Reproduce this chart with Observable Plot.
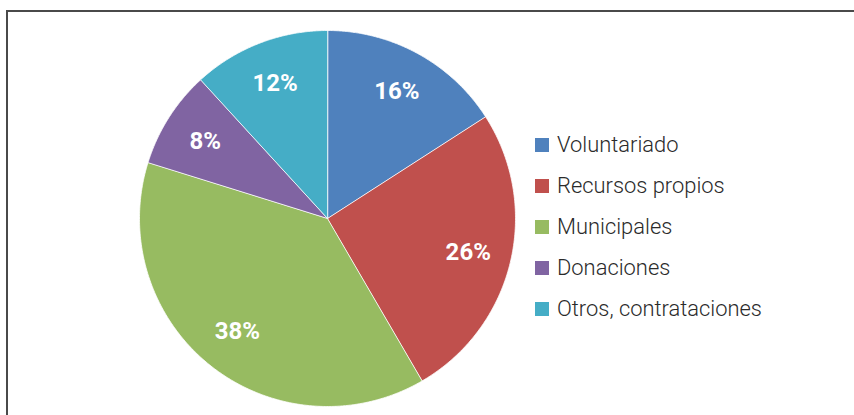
<!DOCTYPE html>
<html>
<head>
<meta charset="utf-8">
<script src="https://cdn.jsdelivr.net/npm/d3@7"></script>
<script src="https://cdn.jsdelivr.net/npm/@observablehq/plot@0.6"></script>
<style>
  html, body { margin: 0; padding: 0; background: #fff; }
  #wrap { position: relative; width: 854px; height: 415px; overflow: hidden; }
  #frame { position: absolute; left: 6px; top: 10px; width: 860px; height: 420px;
           border-top: 2px solid #4a4a4a; border-left: 2px solid #4a4a4a; box-sizing: border-box; pointer-events: none; }
  #legend { position: absolute; left: 535px; top: 124px; font-family: Roboto, "Liberation Sans", sans-serif;
            font-size: 21.9px; font-weight: 300; color: #2a2a2a; }
  .row { display: flex; align-items: center; height: 41px; }
  .sw { width: 14px; height: 14px; margin-right: 8px; }
</style>
</head>
<body>
<div id="wrap">
  <div id="chart"></div>
  <div id="frame"></div>
  <div id="legend"></div>
</div>
<script>
const categories = ["Voluntariado", "Recursos propios", "Municipales", "Donaciones", "Otros, contrataciones"];
// shares
const values = [15.9, 25.7, 38.2, 8.4, 11.8];
const colors = ["#4F81BD", "#C0504D", "#97BB61", "#8064A2", "#45ADC6"];

const total = d3.sum(values);
const arcs = d3.pie().sort(null).value(d => d)(values);

// Polygon points for each slice (angles clockwise from top, unit circle)
function slicePoints(a) {
  const pts = [{x: 0, y: 0}];
  const n = Math.max(8, Math.ceil((a.endAngle - a.startAngle) * 120));
  for (let i = 0; i <= n; i++) {
    const t = a.startAngle + (a.endAngle - a.startAngle) * i / n;
    pts.push({x: Math.sin(t), y: Math.cos(t)});
  }
  return pts;
}

const labelData = arcs.map((a, i) => {
  const m = (a.startAngle + a.endAngle) / 2;
  const r = 0.77;
  return {x: r * Math.sin(m), y: r * Math.cos(m), label: Math.round(values[i] / total * 100) + "%"};
});

const marks = arcs.map((a, i) =>
  Plot.line(slicePoints(a), {x: "x", y: "y", fill: colors[i], stroke: "#ffffff", strokeWidth: 0.8, curve: "linear-closed"})
);
marks.push(Plot.text(labelData, {x: "x", y: "y", text: "label", fill: "white", fontSize: 24, fontWeight: "bold",
  fontFamily: "Roboto, 'Liberation Sans', sans-serif"}));

const chart = Plot.plot({
  width: 854,
  height: 415,
  x: {domain: [-1, 1], range: [139, 515], axis: null},
  y: {domain: [-1, 1], range: [406, 30], axis: null},
  style: {background: "white"},
  marks
});
document.getElementById("chart").appendChild(chart);

const legend = document.getElementById("legend");
categories.forEach((c, i) => {
  const row = document.createElement("div");
  row.className = "row";
  const sw = document.createElement("div");
  sw.className = "sw";
  sw.style.background = colors[i];
  const tx = document.createElement("span");
  tx.textContent = c;
  row.appendChild(sw);
  row.appendChild(tx);
  legend.appendChild(row);
});
</script>
</body>
</html>
